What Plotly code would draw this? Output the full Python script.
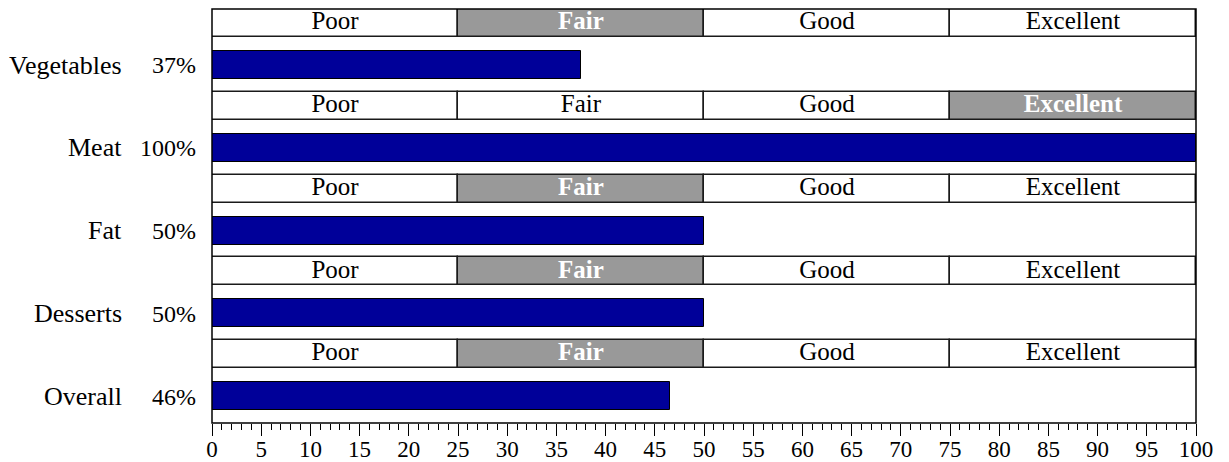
import plotly.graph_objects as go

categories = ["Vegetables", "Meat", "Fat", "Desserts", "Overall"]
scores = [37.5, 100, 50, 50, 46.5]
score_labels = ["37%", "100%", "50%", "50%", "46%"]
rating_levels = ["Poor", "Fair", "Good", "Excellent"]
rating_bounds = [0, 25, 50, 75, 100]
ratings = ["Fair", "Excellent", "Fair", "Fair", "Fair"]
x_ticks = list(range(0, 101, 5))

FONT = "Liberation Serif"
ROW = 414 / 5.0
band_h = 28 / ROW
bar_top = 42 / ROW
bar_h = 28 / ROW

band_c = [i + band_h / 2 for i in range(len(categories))]
bar_c = [i + bar_top + bar_h / 2 for i in range(len(categories))]

fig = go.Figure()

# rating bands
for k, lvl in enumerate(rating_levels):
    width = rating_bounds[k + 1] - rating_bounds[k]
    fills = ["#999999" if r == lvl else "white" for r in ratings]
    fig.add_trace(go.Bar(
        orientation="h", y=band_c, x=[width] * len(categories),
        base=[rating_bounds[k]] * len(categories), width=band_h,
        marker=dict(color=fills, line=dict(color="#1a1a1a", width=1.5)),
        hoverinfo="skip", showlegend=False))
    fig.add_trace(go.Scatter(
        mode="text", y=band_c,
        x=[(rating_bounds[k] + rating_bounds[k + 1]) / 2] * len(categories),
        text=["<b>%s</b>" % lvl if r == lvl else lvl for r in ratings],
        textfont=dict(family=FONT, size=25,
                      color=["white" if r == lvl else "black" for r in ratings]),
        hoverinfo="skip", showlegend=False))

# score bars
fig.add_trace(go.Bar(
    orientation="h", y=bar_c, x=scores, width=bar_h,
    marker=dict(color="#000099", line=dict(color="black", width=1)),
    hoverinfo="skip", showlegend=False))

for c, yc in zip(categories, bar_c):
    fig.add_annotation(text=c, xref="paper", yref="y", x=-88 / 984, y=yc,
                       xanchor="right", yanchor="middle", showarrow=False,
                       font=dict(family=FONT, size=26, color="black"))

# plot frame
fig.add_shape(type="rect", xref="x domain", yref="y domain", x0=0, x1=1, y0=0, y1=1,
              line=dict(color="black", width=1.5), layer="above")

fig.update_layout(
    width=1229, height=462,
    margin=dict(l=212, r=33, t=9, b=39, autoexpand=False),
    plot_bgcolor="white", paper_bgcolor="white",
    barmode="overlay", bargap=0,
    font=dict(family=FONT, size=23, color="black"),
    xaxis=dict(range=[0, 100], tickvals=x_ticks, ticks="outside", ticklen=12,
               tickcolor="black", tickwidth=1, showgrid=False, zeroline=False,
               showline=False, automargin=False,
               ticklabelstandoff=-7,
               tickfont=dict(family=FONT, size=23, color="black"),
               minor=dict(dtick=1, ticks="outside", ticklen=6, tickcolor="black",
                          showgrid=False)),
    yaxis=dict(range=[len(categories), 0], tickvals=bar_c, ticktext=score_labels,
               ticks="", showgrid=False, zeroline=False, showline=False,
               automargin=False, ticklabelstandoff=15,
               tickfont=dict(family=FONT, size=24, color="black")),
)

fig.write_html("out.html", config={"displayModeBar": False},
               post_script="document.body.style.margin='0';document.body.style.overflow='hidden';")
